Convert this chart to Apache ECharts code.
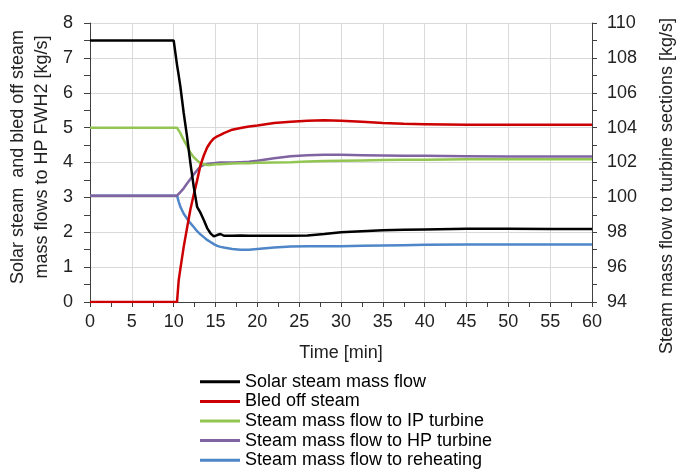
<!DOCTYPE html>
<html>
<head>
<meta charset="utf-8">
<script src="https://cdn.jsdelivr.net/npm/echarts@6/dist/echarts.min.js"></script>
<style>
  html, body { margin: 0; padding: 0; background: #ffffff; }
  #chart { width: 678px; height: 470px; }
</style>
</head>
<body>
<div id="chart"></div>
<script>
// Time axis in minutes (shared by every series)
const timeMin = [0, 10, 10.2, 10.4, 10.6, 10.8, 11.2, 11.6, 12, 12.4, 12.8, 13.2, 13.6, 14, 14.4, 14.8,
  15.2, 15.6, 16, 17, 18, 19, 20, 22, 24, 26, 28, 30, 32.5, 35, 37.5, 40, 45, 50, 55, 60];

// Left axis [kg/s]
const solarSteam = [7.5, 7.5, 7.15, 6.8, 6.5, 6.18, 5.42, 4.74, 3.98, 3.3, 2.73, 2.56, 2.35, 2.12, 1.97, 1.88,
  1.92, 1.95, 1.9, 1.9, 1.91, 1.9, 1.9, 1.9, 1.9, 1.91, 1.95, 2.0, 2.03, 2.06, 2.07, 2.08, 2.1, 2.1, 2.09, 2.09];
const bledOffSteam = [0, 0, 0, 0, 0.62, 0.95, 1.58, 2.12, 2.65, 3.08, 3.48, 3.92, 4.2, 4.43, 4.58, 4.69,
  4.75, 4.79, 4.84, 4.94, 4.99, 5.03, 5.06, 5.13, 5.17, 5.2, 5.21, 5.2, 5.17, 5.13, 5.11, 5.1, 5.08, 5.08, 5.08, 5.08];

// Right axis [kg/s]
const flowIP = [104, 104, 104, 104, 103.84, 103.68, 103.3, 102.94, 102.56, 102.3, 102.12, 101.96, 101.9, 101.86, 101.86, 101.88,
  101.9, 101.9, 101.92, 101.94, 101.96, 101.96, 101.98, 102.0, 102.02, 102.06, 102.08, 102.1, 102.12, 102.14, 102.16, 102.16, 102.18, 102.18, 102.18, 102.18];
const flowHP = [100.1, 100.1, 100.1, 100.1, 100.18, 100.3, 100.52, 100.8, 101.06, 101.32, 101.56, 101.76, 101.86, 101.92, 101.94, 101.96,
  101.98, 102.0, 102.0, 102.0, 102.02, 102.04, 102.1, 102.24, 102.36, 102.42, 102.44, 102.44, 102.42, 102.4, 102.38, 102.38, 102.36, 102.34, 102.34, 102.34];
const flowReheat = [100.1, 100.1, 100.1, 100.1, 99.76, 99.46, 99.06, 98.78, 98.52, 98.3, 98.06, 97.88, 97.72, 97.56, 97.44, 97.32,
  97.22, 97.16, 97.12, 97.04, 97.0, 97.0, 97.04, 97.12, 97.18, 97.2, 97.2, 97.2, 97.22, 97.24, 97.26, 97.28, 97.3, 97.3, 97.3, 97.3];

const seriesNames = ['Solar steam mass flow', 'Bled off steam', 'Steam mass flow to IP turbine',
  'Steam mass flow to HP turbine', 'Steam mass flow to reheating'];
const seriesColors = ['#000000', '#cc0000', '#92c552', '#8064a2', '#4f86c8'];
const seriesValues = [solarSteam, bledOffSteam, flowIP, flowHP, flowReheat];
const seriesAxis = [0, 0, 1, 1, 1];

const FONT = 'Liberation Sans, Arial, sans-serif';
const TXT = '#222222';
const AXIS = '#404040';
const GRID = '#d9d9d9';

const chart = echarts.init(document.getElementById('chart'), null, { renderer: 'canvas' });

const series = seriesNames.map((name, i) => ({
  name: name,
  type: 'line',
  yAxisIndex: seriesAxis[i],
  data: timeMin.map((t, k) => [t, seriesValues[i][k]]),
  showSymbol: false,
  symbol: 'none',
  lineStyle: { color: seriesColors[i], width: 2.5 },
  itemStyle: { color: seriesColors[i] },
  z: 10 - i
}));

chart.setOption({
  animation: false,
  backgroundColor: '#ffffff',
  grid: { left: 90, right: 86, top: 23, bottom: 168, containLabel: false },
  xAxis: {
    type: 'value', min: 0, max: 60, interval: 5,
    name: 'Time [min]', nameLocation: 'middle', nameGap: 42,
    nameTextStyle: { fontFamily: FONT, fontSize: 18, color: TXT },
    axisLine: { show: true, onZero: false, lineStyle: { color: AXIS, width: 1 } },
    axisTick: { show: true, length: 5, lineStyle: { color: AXIS } },
    minorTick: { show: true, splitNumber: 2, length: 5, lineStyle: { color: AXIS } },
    axisLabel: { fontFamily: FONT, fontSize: 18, color: TXT, margin: 11 },
    splitLine: { show: true, lineStyle: { color: GRID, width: 1 } }
  },
  yAxis: [
    {
      type: 'value', min: 0, max: 8, interval: 1, position: 'left',
      axisLine: { show: true, onZero: false, lineStyle: { color: AXIS, width: 1 } },
      axisTick: { show: true, length: 6, lineStyle: { color: AXIS } },
      minorTick: { show: true, splitNumber: 2, length: 6, lineStyle: { color: AXIS } },
      axisLabel: { fontFamily: FONT, fontSize: 18, color: TXT, margin: 17 },
      splitLine: { show: true, lineStyle: { color: GRID, width: 1 } }
    },
    {
      type: 'value', min: 94, max: 110, interval: 2, position: 'right',
      axisLine: { show: true, onZero: false, lineStyle: { color: AXIS, width: 1 } },
      axisTick: { show: true, length: 5, lineStyle: { color: AXIS } },
      minorTick: { show: true, splitNumber: 2, length: 5, lineStyle: { color: AXIS } },
      axisLabel: { fontFamily: FONT, fontSize: 18, color: TXT, margin: 15 },
      splitLine: { show: false }
    }
  ],
  legend: {
    orient: 'vertical', left: 200, top: 372, height: 98, padding: 0,
    itemWidth: 40, itemHeight: 3, itemGap: 0, icon: 'rect',
    textStyle: { fontFamily: FONT, fontSize: 18, color: '#000000', lineHeight: 19.6 },
    data: seriesNames.map((n, i) => ({ name: n, itemStyle: { color: seriesColors[i] } }))
  },
  graphic: [
    {
      type: 'text', x: 30, y: 157, rotation: Math.PI / 2,
      style: {
        text: 'Solar steam  and bled off steam\nmass flows to HP FWH2 [kg/s]',
        fontFamily: FONT, fontSize: 18, fill: TXT, lineHeight: 24,
        align: 'center', verticalAlign: 'middle'
      }
    },
    {
      type: 'text', x: 667, y: 186, rotation: Math.PI / 2,
      style: {
        text: 'Steam mass flow to turbine sections [kg/s]',
        fontFamily: FONT, fontSize: 18, fill: TXT,
        align: 'center', verticalAlign: 'middle'
      }
    }
  ],
  series: series
});
</script>
</body>
</html>
